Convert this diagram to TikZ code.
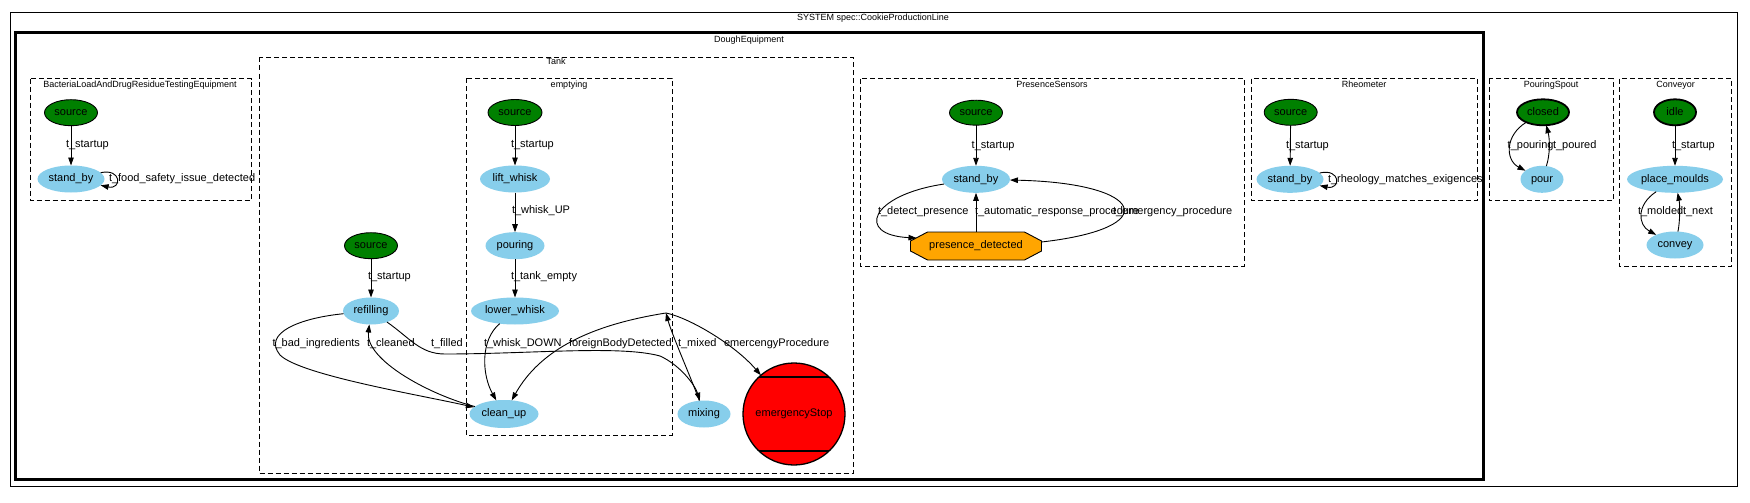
\documentclass[tikz,border=0pt]{standalone}
\usepackage{fontspec}
\setmainfont{Liberation Sans}
\usetikzlibrary{shapes.geometric,arrows.meta,calc}
\definecolor{srcgreen}{RGB}{0,128,0}
\definecolor{stateblue}{RGB}{135,206,235}
\definecolor{detorange}{RGB}{255,165,0}
\definecolor{stopred}{RGB}{255,0,0}
\begin{document}
\begin{tikzpicture}[x=1pt,y=-1pt,
  every node/.style={inner sep=0pt, outer sep=0pt},
  txt/.style={font=\fontsize{11}{13}\selectfont, text height=8pt, text depth=2.5pt},
  clab/.style={font=\fontsize{9}{11}\selectfont, text height=6.5pt, text depth=2pt},
  elab/.style={txt, anchor=west},
  srcnode/.style={txt, ellipse, draw=black, line width=0.9pt, fill=srcgreen, minimum width=53pt, minimum height=26pt},
  initnode/.style={srcnode, line width=1.8pt},
  stnode/.style={txt, ellipse, fill=stateblue, minimum height=27pt},
  clusterbox/.style={draw=black, line width=0.9pt, dash pattern=on 5pt off 3pt},
  trans/.style={draw=black, line width=0.9pt, -{Triangle[length=8pt,width=5.5pt]}},
]
\useasboundingbox (0,0) rectangle (1750,503);
\fill[white] (0,0) rectangle (1750,503);

% ---------- frames ----------
\draw[line width=1pt] (10,12.5) rectangle (1737,486.5);
\node[clab] (lsys) at (873,18) {SYSTEM spec::CookieProductionLine};
\draw[line width=3pt] (15,33) rectangle (1483,479);
\node[clab] (ldough) at (749,40) {DoughEquipment};

\draw[clusterbox] (30.5,78.5) rectangle (251,200.5);
\node[clab] (lbact) at (140,85) {BacteriaLoadAndDrugResidueTestingEquipment};
\draw[clusterbox] (259,57.5) rectangle (853.5,473);
\node[clab] (ltank) at (556,62.5) {Tank};
\draw[clusterbox] (466,78) rectangle (672,435);
\node[clab] (lempty) at (569,85) {emptying};
\draw[clusterbox] (860.5,78.5) rectangle (1244,266);
\node[clab] (lpres) at (1052,85) {PresenceSensors};
\draw[clusterbox] (1251.5,78.5) rectangle (1477,200.5);
\node[clab] (lrheo) at (1364,85) {Rheometer};
\draw[clusterbox] (1489,78.5) rectangle (1613,200.5);
\node[clab] (lspout) at (1551,85) {PouringSpout};
\draw[clusterbox] (1619.5,78.5) rectangle (1731.5,266);
\node[clab] (lconv) at (1675.5,85) {Conveyor};

% ---------- nodes ----------
\node[srcnode] (bsrc) at (71,112.7) {source};
\node[stnode, minimum width=67pt] (bsb) at (71,179) {stand\_by};

\node[srcnode] (tsrc) at (371,245.7) {source};
\node[stnode, minimum width=56pt] (refill) at (371,311) {refilling};
\node[srcnode, minimum width=54pt] (esrc) at (515,112.5) {source};
\node[stnode, minimum width=70pt] (lift) at (515,179) {lift\_whisk};
\node[stnode, minimum width=59pt] (pouring) at (515,245.7) {pouring};
\node[stnode, minimum width=88pt] (lower) at (515,311) {lower\_whisk};
\node[stnode, minimum width=69pt, minimum height=28pt] (clean) at (504,414) {clean\_up};
\node[stnode, minimum width=53pt] (mixing) at (704,414) {mixing};
\node[txt, circle, draw=black, line width=1.3pt, fill=stopred, minimum size=102pt] (estop) at (794,414) {emergencyStop};
\draw[line width=1.8pt] ($(estop.center)+(-35,-37)$) -- ($(estop.center)+(35,-37)$);
\draw[line width=1.8pt] ($(estop.center)+(-35,37)$) -- ($(estop.center)+(35,37)$);

\node[srcnode, minimum height=25pt] (psrc) at (976,112.7) {source};
\node[stnode, minimum width=68pt] (psb) at (976,179.3) {stand\_by};
\filldraw[fill=detorange, draw=black, line width=0.9pt] (927.5,232) -- (1024.5,232) -- (1041.5,241) -- (1041.5,251) -- (1024.5,260) -- (927.5,260) -- (910.5,251) -- (910.5,241) -- cycle;
\node[txt, minimum width=131pt, minimum height=28pt] (pdet) at (976,246) {presence\_detected};

\node[srcnode] (rsrc) at (1290.7,112.3) {source};
\node[stnode, minimum width=67pt] (rsb) at (1290,179.3) {stand\_by};

\node[initnode, minimum width=52pt] (closed) at (1543,112.3) {closed};
\node[stnode, minimum width=43pt] (pour) at (1542,179.3) {pour};

\node[initnode, minimum width=42pt] (idle) at (1675,112.3) {idle};
\node[stnode, minimum width=95pt] (place) at (1675,179.3) {place\_moulds};
\node[stnode, minimum width=57pt] (convey) at (1675,245) {convey};

\coordinate (ebd) at (666,313);

% ---------- edges ----------
\draw[trans] (bsrc) -- (bsb);
\draw[trans] (bsb.12) .. controls (122,168) and (122,190) .. (bsb.-12);

\draw[trans] (tsrc) -- (refill);
\draw[trans] (esrc) -- (lift);
\draw[trans] (lift) -- (pouring);
\draw[trans] (pouring) -- (lower);
\draw[trans] (refill) .. controls (300,318) and (262,333) .. (280,355) .. controls (300,375) and (420,395) .. (clean);
\draw[trans] (clean) .. controls (430,395) and (365,360) .. (refill);
\draw[trans] (refill) .. controls (410,338) and (420,354) .. (445,354) .. controls (530,354) and (620,345) .. (660,356) .. controls (680,365) and (695,385) .. (mixing);
\draw[trans] (lower) .. controls (480,340) and (482,375) .. (clean);
\draw[trans] (ebd) .. controls (590,325) and (540,350) .. (clean);
\draw[trans] (mixing) .. controls (692,380) and (672,335) .. (ebd);
\draw[trans] (ebd) .. controls (690,318) and (735,345) .. (estop);

\draw[trans] (psrc) -- (psb);
\draw[trans] (psb) .. controls (870,195) and (855,235) .. ($(pdet.west)+(6,-8)$);
\draw[trans] (pdet) -- (psb);
\draw[trans] ($(pdet.east)+(0,-4)$) .. controls (1165,228) and (1145,183) .. (psb);

\draw[trans] (rsrc) -- (rsb);
\draw[trans] (rsb.12) .. controls (1341,168) and (1341,190) .. (rsb.-12);

\draw[trans] (closed) .. controls (1505,135) and (1505,160) .. (pour);
\draw[trans] (pour) .. controls (1550,155) and (1550,140) .. (closed);

\draw[trans] (idle) -- (place);
\draw[trans] (place) .. controls (1636,205) and (1638,225) .. (convey);
\draw[trans] (convey) .. controls (1680,222) and (1680,205) .. (place);

% ---------- edge labels ----------
\node[elab] (l1) at (66,145) {t\_startup};
\node[elab] (l2) at (109,179) {t\_food\_safety\_issue\_detected};
\node[elab] (l3) at (368,277) {t\_startup};
\node[elab] (l4) at (511,145) {t\_startup};
\node[elab] (l5) at (512,211) {t\_whisk\_UP};
\node[elab] (l6) at (511,277) {t\_tank\_empty};
\node[elab] (l7) at (272.5,344) {t\_bad\_ingredients};
\node[elab] (l8) at (367,344) {t\_cleaned};
\node[elab] (l9) at (431,344) {t\_filled};
\node[elab] (l10) at (484,344) {t\_whisk\_DOWN};
\node[elab] (l11) at (569,344) {foreignBodyDetected};
\node[elab] (l12) at (678,344) {t\_mixed};
\node[elab] (l13) at (724,344) {emercengyProcedure};
\node[elab] (l14) at (971.7,145.7) {t\_startup};
\node[elab] (l15) at (878,211.7) {t\_detect\_presence};
\node[elab] (l16) at (975,211.7) {t\_automatic\_response\_procedure};
\node[elab] (l17) at (1113,211.7) {t\_emergency\_procedure};
\node[elab] (l18) at (1286,145.7) {t\_startup};
\node[elab] (l19) at (1328,179.3) {t\_rheology\_matches\_exigences};
\node[elab] (l20) at (1507.7,145.7) {t\_pouring};
\node[elab] (l21) at (1553,145.7) {t\_poured};
\node[elab] (l22) at (1672,145.7) {t\_startup};
\node[elab] (l23) at (1638,211.7) {t\_molded};
\node[elab] (l24) at (1683,211.7) {t\_next};
\end{tikzpicture}
\end{document}
